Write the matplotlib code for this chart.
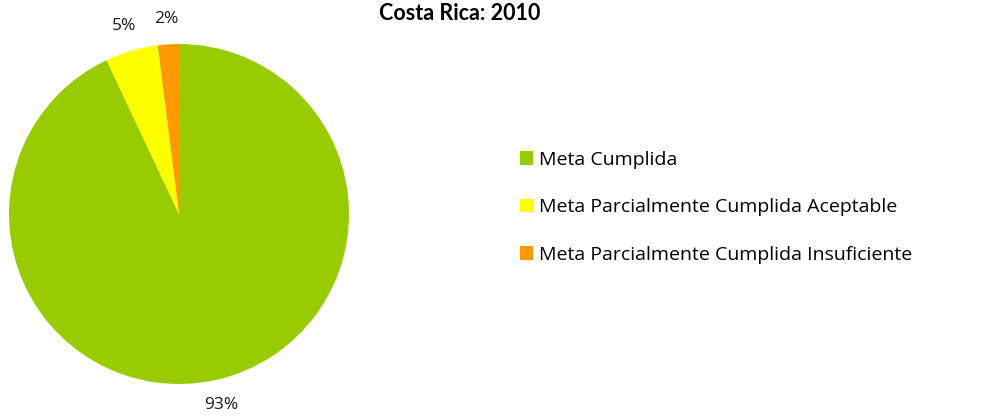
import matplotlib.pyplot as plt
from matplotlib.patches import Patch

plt.rcParams['font.family'] = ['Open Sans', 'DejaVu Sans']

labels = ['Meta Cumplida', 'Meta Parcialmente Cumplida Aceptable',
          'Meta Parcialmente Cumplida Insuficiente']
values = [93, 5, 2]
colors = ['#99CC00', '#FFFF00', '#FF9900']

fig = plt.figure(figsize=(9.93, 4.16), dpi=100)

# pie axes
ax = fig.add_axes([9 / 993, 32 / 416, 340 / 993, 340 / 416])
wedges, texts, autotexts = ax.pie(values, colors=colors, startangle=90, counterclock=False,
                                  autopct='%1.0f%%', pctdistance=1.15, radius=1,
                                  textprops={'fontsize': 12.5, 'color': '#1a1a1a'})
ax.set_xlim(-1, 1)
ax.set_ylim(-1, 1)
ax.set_aspect('equal')

fig.text(460 / 993, 1 - 13 / 416, 'Costa Rica: 2010', ha='center', va='center',
         fontsize=15.5, fontweight='bold', color='black', family=['Lato', 'DejaVu Sans'])

handles = [Patch(facecolor=c, edgecolor='none') for c in colors]
fig.legend(handles, labels, loc='upper left', bbox_to_anchor=(512 / 993, 1 - 143 / 416),
           frameon=False, fontsize=14, handlelength=0.7, handleheight=0.7,
           handletextpad=0.3, labelspacing=1.52, borderaxespad=0)

fig.savefig('out.png', dpi=100)
